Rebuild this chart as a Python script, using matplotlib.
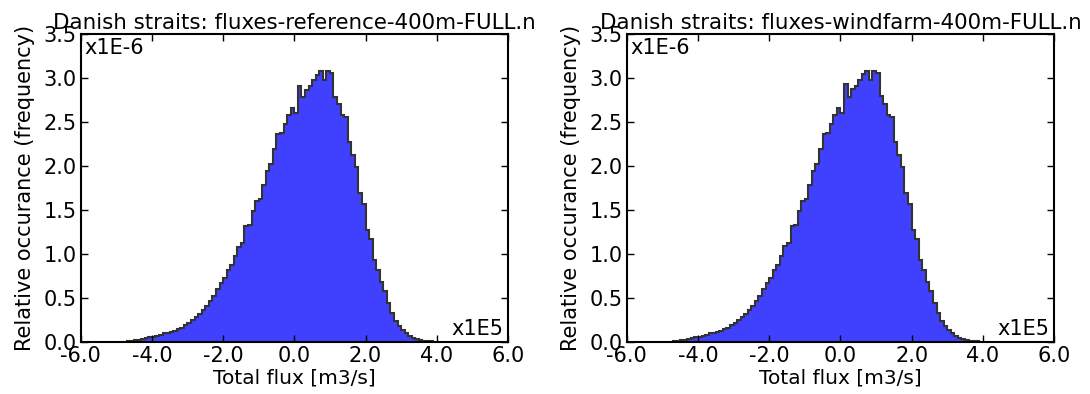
import numpy as np
import matplotlib
matplotlib.use("Agg")
import matplotlib.pyplot as plt

# bin edges in units of 1E5 m3/s (bin width 1E4 m3/s)
edges = np.round(np.arange(-4.7, 3.9001, 0.1), 2)

# relative occurrence per bin, in units of 1E-6
freq_reference = [
    0.003, 0.008, 0.015, 0.022, 0.030, 0.038, 0.048, 0.058, 0.068, 0.080,
    0.095, 0.100, 0.110, 0.125, 0.140, 0.155, 0.190, 0.210, 0.250, 0.280,
    0.320, 0.360, 0.410, 0.460, 0.520, 0.600, 0.670, 0.720, 0.810, 0.870,
    0.970, 1.080, 1.120, 1.310, 1.330, 1.480, 1.600, 1.620, 1.780, 1.940,
    2.020, 2.190, 2.360, 2.370, 2.470, 2.570, 2.660, 2.600, 2.910, 2.780,
    2.860, 2.900, 2.970, 3.030, 3.080, 2.970, 3.080, 3.050, 2.780, 2.700,
    2.580, 2.550, 2.270, 2.120, 1.980, 1.690, 1.570, 1.270, 1.170, 0.930,
    0.810, 0.680, 0.580, 0.440, 0.330, 0.240, 0.180, 0.130, 0.095, 0.065,
    0.045, 0.030, 0.020, 0.012, 0.006, 0.003,
]
freq_windfarm = [
    0.003, 0.008, 0.015, 0.022, 0.030, 0.039, 0.048, 0.058, 0.069, 0.080,
    0.094, 0.100, 0.112, 0.125, 0.140, 0.157, 0.190, 0.212, 0.250, 0.282,
    0.320, 0.362, 0.410, 0.462, 0.520, 0.602, 0.670, 0.722, 0.810, 0.872,
    0.970, 1.082, 1.120, 1.312, 1.330, 1.482, 1.600, 1.622, 1.780, 1.942,
    2.020, 2.192, 2.360, 2.372, 2.470, 2.572, 2.660, 2.602, 2.930, 2.780,
    2.870, 2.900, 2.970, 3.040, 3.080, 2.970, 3.080, 3.050, 2.790, 2.700,
    2.580, 2.550, 2.270, 2.120, 1.980, 1.690, 1.570, 1.270, 1.170, 0.930,
    0.810, 0.680, 0.580, 0.440, 0.330, 0.240, 0.180, 0.130, 0.095, 0.065,
    0.045, 0.030, 0.020, 0.012, 0.006, 0.003,
]

titles = [
    "Danish straits: fluxes-reference-400m-FULL.n",
    "Danish straits: fluxes-windfarm-400m-FULL.n",
]
xticks = [-6, -4, -2, 0, 2, 4, 6]
yticks = [0.0, 0.5, 1.0, 1.5, 2.0, 2.5, 3.0, 3.5]

fig = plt.figure(figsize=(10.9, 3.94), dpi=100)
ax_left = fig.add_axes([0.074, 0.1327, 0.392, 0.782])
ax_right = fig.add_axes([0.575, 0.1327, 0.392, 0.782])

for ax, freq, title in zip([ax_left, ax_right], [freq_reference, freq_windfarm], titles):
    ax.stairs(freq, edges, fill=True, facecolor="#4040ff",
              edgecolor="#333333", linewidth=1.5, baseline=0)
    ax.set_xlim(-6, 6)
    ax.set_ylim(0, 3.5)
    ax.set_xticks(xticks)
    ax.set_xticklabels([f"{t:.1f}" for t in xticks])
    ax.set_yticks(yticks)
    ax.set_yticklabels([f"{t:.1f}" for t in yticks])
    ax.tick_params(direction="in", top=True, right=True, length=5,
                   width=1, labelsize=15, pad=3)
    for sp in ax.spines.values():
        sp.set_linewidth(1.5)
    ax.set_title(title, fontsize=15.4, pad=3)
    ax.set_xlabel("Total flux [m3/s]", fontsize=14.5, labelpad=2)
    ax.set_ylabel("Relative occurance (frequency)", fontsize=15, labelpad=6)
    ax.text(0.008, 0.985, "x1E-6", transform=ax.transAxes, fontsize=15,
            ha="left", va="top")
    ax.text(0.99, 0.01, "x1E5", transform=ax.transAxes, fontsize=15,
            ha="right", va="bottom")

fig.savefig("out.png", dpi=100)
